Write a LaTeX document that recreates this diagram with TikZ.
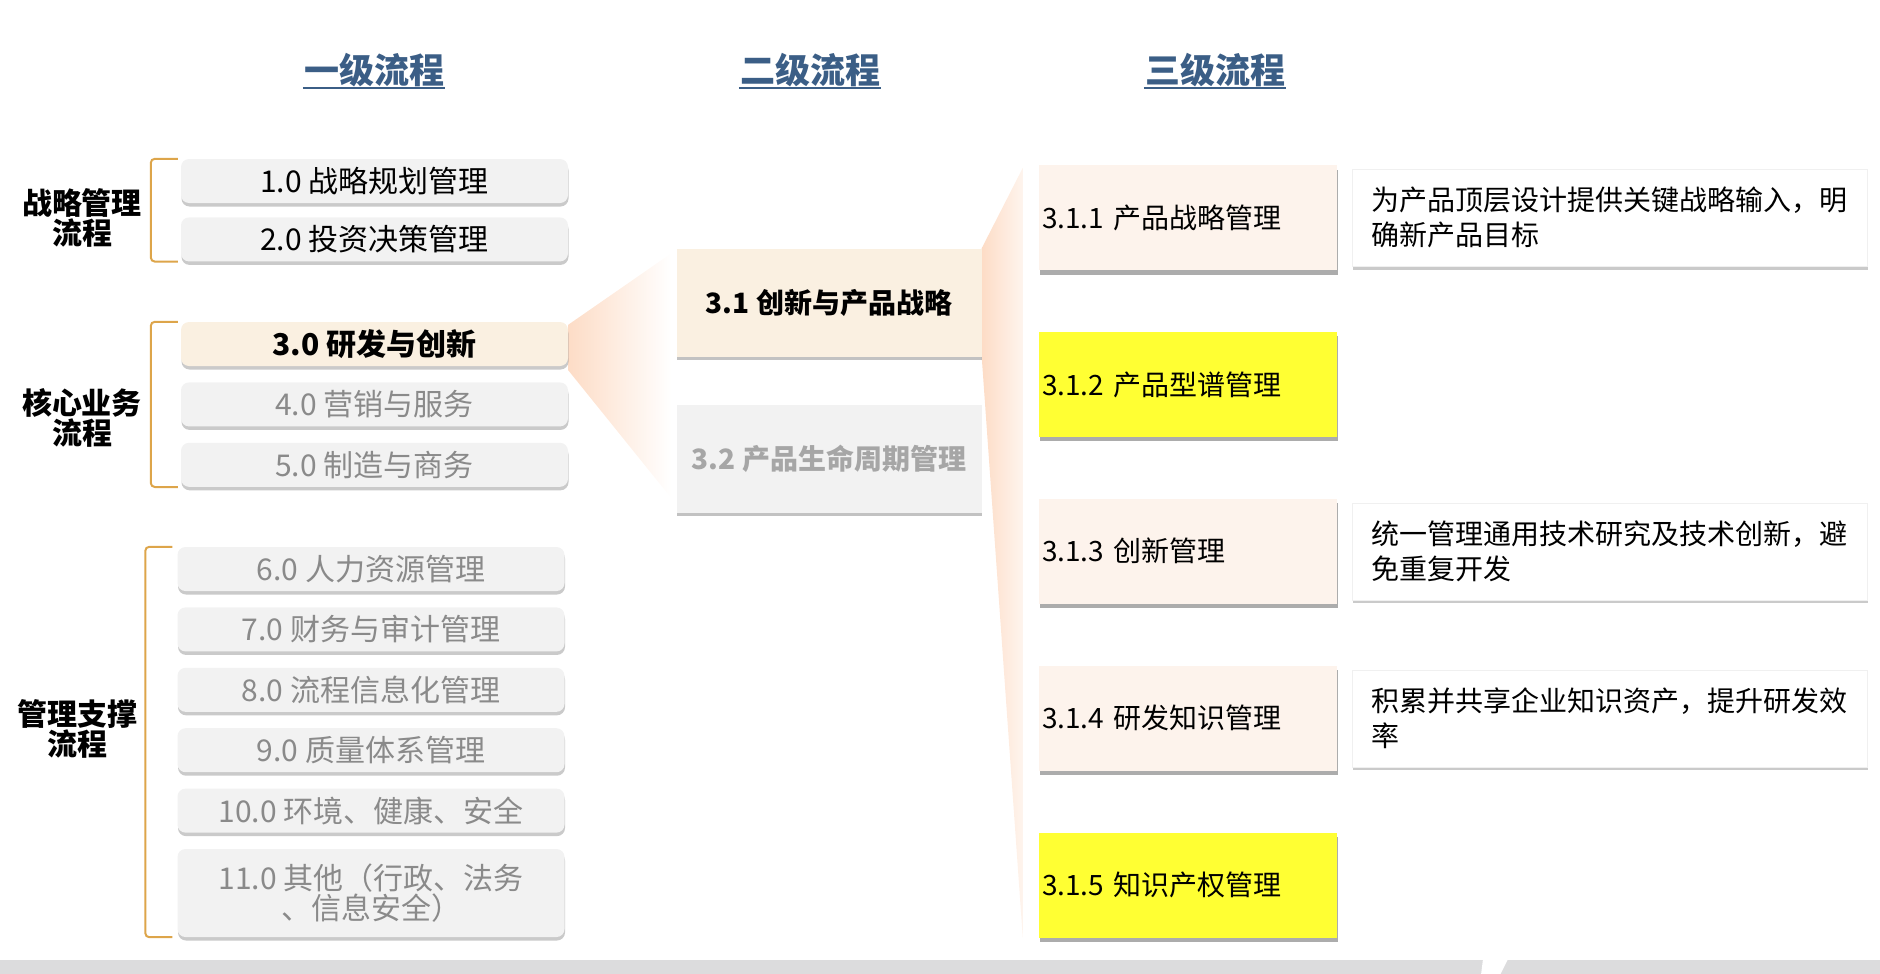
\documentclass[tikz,border=0pt]{standalone}
\usepackage{fontspec}
\setmainfont{Noto Sans CJK SC}
\usetikzlibrary{positioning,shadows,backgrounds}

\definecolor{hdblue}{HTML}{3B5E86}
\definecolor{boxgray}{HTML}{F2F2F2}
\definecolor{txtgray}{HTML}{8A8A8A}
\definecolor{dimgray}{HTML}{A6A6A6}
\definecolor{cream}{HTML}{FAF0E1}
\definecolor{peach}{HTML}{FDF3EC}
\definecolor{hiyel}{HTML}{FFFF33}
\definecolor{brkgold}{HTML}{DDA54A}
\definecolor{fanpeach}{HTML}{FDDCC6}
\definecolor{bargray}{HTML}{DCDCDD}

\begin{document}
\begin{tikzpicture}[x=1pt, y=1pt, node distance=16pt,
	head/.style={text=hdblue, inner sep=1pt, font=\bfseries\fontsize{35}{35}\selectfont},
	lbox/.style={fill=boxgray, rounded corners=8pt, minimum width=387pt, minimum height=44pt, inner sep=0pt, align=center,
		font=\fontsize{30}{28}\selectfont, drop shadow={shadow xshift=0.5pt, shadow yshift=-3.5pt, opacity=.35, fill=black!60}},
	off/.style={text=txtgray},
	grp/.style={align=center, inner sep=0pt, font=\bfseries\fontsize{30}{30}\selectfont},
	brk/.style={draw=brkgold, line width=2pt, rounded corners=4pt},
	mbox/.style={minimum width=305pt, minimum height=108pt, inner sep=0pt, font=\bfseries\fontsize{28}{30}\selectfont,
		drop shadow={shadow xshift=0.5pt, shadow yshift=-3.5pt, opacity=.4, fill=black!60}},
	tbox/.style={minimum width=298pt, minimum height=105pt, text width=292pt, inner xsep=3pt, align=left,
		font=\fontsize{28}{30}\selectfont, drop shadow={shadow xshift=1pt, shadow yshift=-4.5pt, opacity=.5, fill=black!65}},
	dbox/.style={fill=white, draw=black!6, minimum width=515pt, minimum height=97pt, text width=476pt, inner xsep=19.5pt, align=left,
		font=\fontsize{28}{35}\selectfont, drop shadow={shadow xshift=0.5pt, shadow yshift=-3.5pt, opacity=.35, fill=black!60}}]
	\useasboundingbox (0,0) rectangle (1880,-974);

	% bottom bar
	\fill[bargray] (0,-960) rectangle (1880,-974);
	\fill[white] (1483,-959) -- (1508,-959) -- (1500,-975) -- (1481,-975) -- cycle;

	\node[head] (h1) at (374,-70) {一级流程};
	\node[head] (h2) at (810,-70) {二级流程};
	\node[head] (h3) at (1215,-70) {三级流程};
	\foreach \h in {h1,h2,h3}
		\draw[hdblue, line width=2.5pt] (\h.south west) -- (\h.south east);

	% level 1
	\node[lbox] (l1) at (374.5,-181) {1.0 战略规划管理};
	\node[lbox, below=14pt of l1] (l2) {2.0 投资决策管理};
	\node[lbox, fill=cream, font=\bfseries\fontsize{30}{28}\selectfont] (l3) at (374.5,-344) {3.0 研发与创新};
	\node[lbox, off, below=of l3] (l4) {4.0 营销与服务};
	\node[lbox, off, below=of l4] (l5) {5.0 制造与商务};
	\node[lbox, off] (l6) at (371,-569) {6.0 人力资源管理};
	\node[lbox, off, below=of l6] (l7) {7.0 财务与审计管理};
	\node[lbox, off, below=of l7] (l8) {8.0 流程信息化管理};
	\node[lbox, off, below=of l8] (l9) {9.0 质量体系管理};
	\node[lbox, off, below=of l9] (l10) {10.0 环境、健康、安全};
	\node[lbox, off, below=of l10, minimum height=88pt] (l11) {11.0 其他（行政、法务\\、信息安全）};

	\node[grp] (g1) at (82,-218) {战略管理\\流程};
	\node[grp] (g2) at (82,-418) {核心业务\\流程};
	\node[grp] (g3) at (77,-729) {管理支撑\\流程};

	\draw[brk] ([xshift=-3pt]l1.north west) -| ([xshift=-30pt]l2.south west) -- ([xshift=-3pt]l2.south west);
	\draw[brk] ([xshift=-3pt]l3.north west) -| ([xshift=-30pt]l5.south west) -- ([xshift=-3pt]l5.south west);
	\draw[brk] ([xshift=-5pt]l6.north west) -| ([xshift=-32pt]l11.south west) -- ([xshift=-5pt]l11.south west);

	% level 2
	\node[mbox, fill=cream] (m1) at (829,-302.5) {3.1 创新与产品战略};
	\node[mbox, fill=boxgray, text=dimgray, below=48pt of m1] (m2) {3.2 产品生命周期管理};

	% level 3
	\node[tbox, fill=peach] (t1) at (1188,-217.5) {3.1.1 产品战略管理};
	\node[tbox, fill=hiyel, below=61.5pt of t1] (t2) {3.1.2 产品型谱管理};
	\node[tbox, fill=peach, below=61.5pt of t2] (t3) {3.1.3 创新管理};
	\node[tbox, fill=peach, below=61.5pt of t3] (t4) {3.1.4 研发知识管理};
	\node[tbox, fill=hiyel, below=61.5pt of t4] (t5) {3.1.5 知识产权管理};

	\node[dbox, right=15pt of t1] (d1) {为产品顶层设计提供关键战略输入，明\\确新产品目标};
	\node[dbox, right=15pt of t3] (d3) {统一管理通用技术研究及技术创新，避\\免重复开发};
	\node[dbox, right=15pt of t4] (d4) {积累并共享企业知识资产，提升研发效\\率};

	\begin{scope}[on background layer]
		\shade[left color=fanpeach, right color=white] ([yshift=-3pt]l3.north east) -- ([xshift=-5pt,yshift=-5pt]m1.north west)
			-- ([xshift=-5pt,yshift=15pt]m2.south west) -- ([yshift=-4pt]l3.south east) -- cycle;
		\shade[left color=fanpeach, right color=fanpeach!30] (m1.north east) -- ([xshift=-16pt,yshift=-3pt]t1.north west)
			-- ([xshift=-16pt]t5.south west) -- (m1.south east) -- cycle;
	\end{scope}
\end{tikzpicture}
\end{document}
